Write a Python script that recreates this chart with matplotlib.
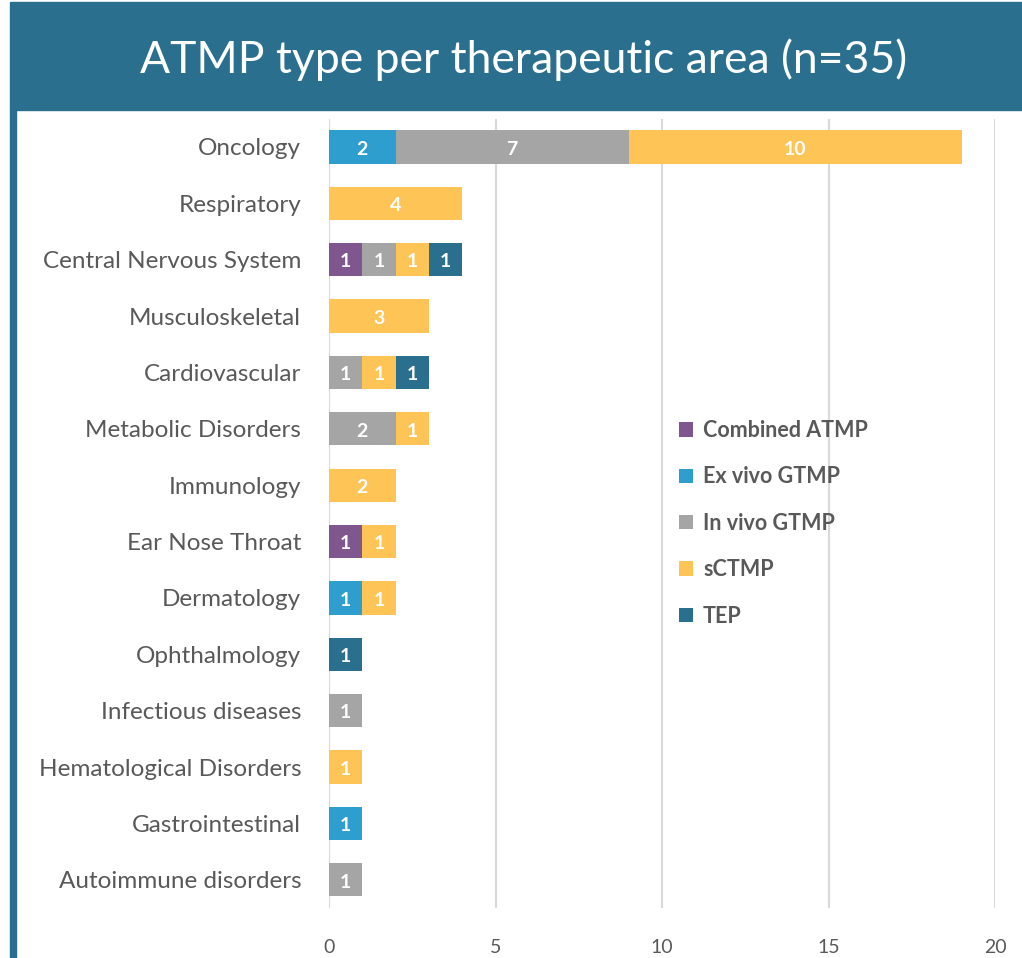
import numpy as np
import matplotlib.pyplot as plt
from matplotlib.patches import Rectangle

areas = ["Oncology", "Respiratory", "Central Nervous System", "Musculoskeletal",
         "Cardiovascular", "Metabolic Disorders", "Immunology", "Ear Nose Throat",
         "Dermatology", "Ophthalmology", "Infectious diseases",
         "Hematological Disorders", "Gastrointestinal", "Autoimmune disorders"]
series = ["Combined ATMP", "Ex vivo GTMP", "In vivo GTMP", "sCTMP", "TEP"]
combined = [0, 0, 1, 0, 0, 0, 0, 1, 0, 0, 0, 0, 0, 0]
ex_vivo = [2, 0, 0, 0, 0, 0, 0, 0, 1, 0, 0, 0, 1, 0]
in_vivo = [7, 0, 1, 0, 1, 2, 0, 0, 0, 0, 1, 0, 0, 1]
sctmp = [10, 4, 1, 3, 1, 1, 2, 1, 1, 0, 0, 1, 0, 0]
tep = [0, 0, 1, 0, 1, 0, 0, 0, 0, 1, 0, 0, 0, 0]
colors = ["#80568E", "#2E9ECF", "#A5A5A5", "#FFC456", "#2B6F8E"]

BANNER = "#2B6F8E"
GRAY = "#595959"
plt.rcParams["font.family"] = ["Lato", "DejaVu Sans"]

fig = plt.figure(figsize=(10.22, 9.58), dpi=100)
W, H = 1022, 958

# title banner and left strip
fig.patches.append(Rectangle((10 / W, 1 - 110 / H), 1 - 10 / W, 108 / H,
                             transform=fig.transFigure, color=BANNER, zorder=0))
fig.patches.append(Rectangle((10 / W, 0), 6 / W, 1 - 110 / H,
                             transform=fig.transFigure, color=BANNER, zorder=0))
fig.text(524 / W, 1 - 60 / H, "ATMP type per therapeutic area (n=35)",
         color="white", fontsize=32, ha="center", va="center")

ax = fig.add_axes([329 / W, 1 - 908 / H, (995 - 329) / W, (908 - 118.8) / H])
y = np.arange(len(areas))
left = np.zeros(len(areas))
for name, vals, c in zip(series, [combined, ex_vivo, in_vivo, sctmp, tep], colors):
    vals = np.array(vals, dtype=float)
    bars = ax.barh(y, vals, left=left, height=0.59, color=c, label=name, zorder=3)
    for b, v in zip(bars, vals):
        if v > 0:
            ax.text(b.get_x() + b.get_width() / 2, b.get_y() + b.get_height() / 2 + 0.04,
                    f"{int(v)}", color="white", fontsize=14, fontweight="bold",
                    ha="center", va="center", zorder=4)
    left += vals

ax.set_xlim(0, 20)
ax.set_ylim(len(areas) - 0.5, -0.5)
ax.set_yticks(y)
ax.set_yticklabels(areas, fontsize=17.5, color=GRAY)
ax.set_xticks([0, 5, 10, 15, 20])
ax.tick_params(axis="x", labelsize=14, colors=GRAY, length=0, pad=22)
ax.tick_params(axis="y", length=0, pad=20)
ax.grid(axis="x", color="#D9D9D9", linewidth=1.5, zorder=0)
for s in ax.spines.values():
    s.set_visible(False)

leg = ax.legend(loc="upper left", bbox_to_anchor=(0.497, 0.643), frameon=False,
                handlelength=0.65, handleheight=0.65, handletextpad=0.45,
                labelspacing=1.18, prop={"size": 15.5, "weight": "bold"})
for t in leg.get_texts():
    t.set_color(GRAY)

fig.savefig("out.png", dpi=100)
